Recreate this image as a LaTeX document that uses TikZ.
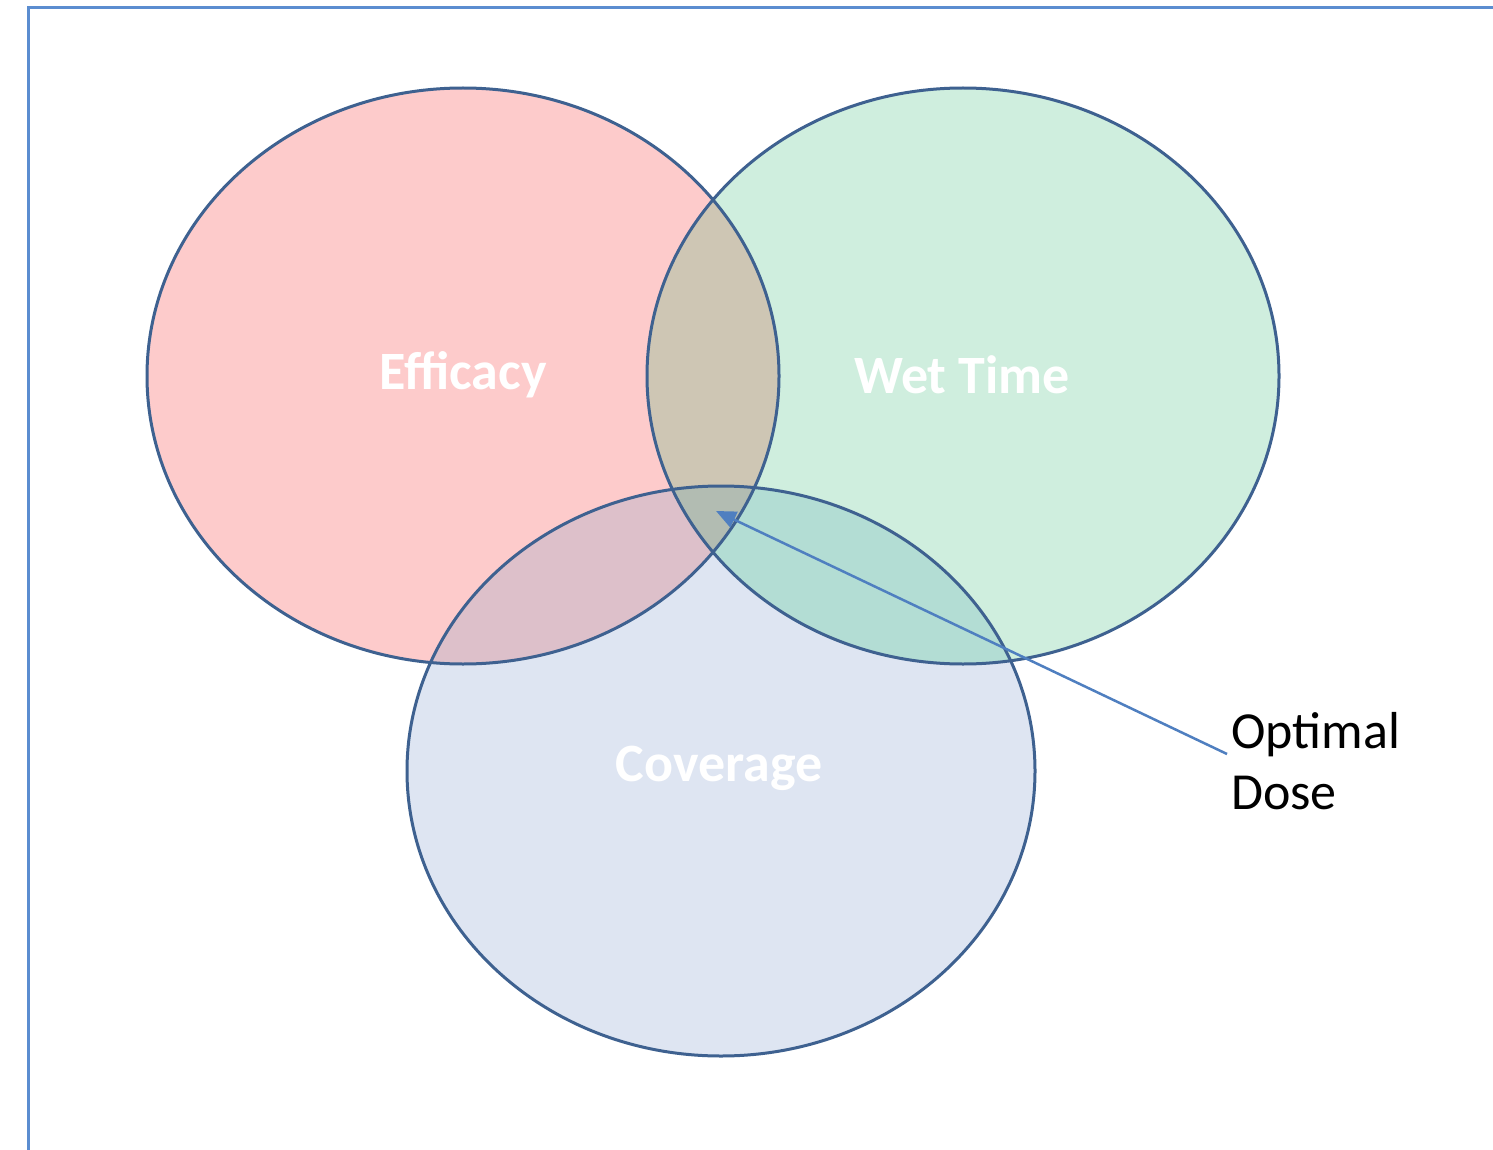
\documentclass[tikz,border=0pt]{standalone}
\usepackage{fontspec}
\setmainfont{Carlito}
\usetikzlibrary{arrows.meta}

\definecolor{effFill}{HTML}{FDCBCB}
\definecolor{wetFill}{HTML}{CFEEDE}
\definecolor{covFill}{HTML}{DEE5F2}
\definecolor{effWet}{HTML}{CEC6B4}
\definecolor{effCov}{HTML}{DDC0CA}
\definecolor{wetCov}{HTML}{B3DDD4}
\definecolor{allThree}{HTML}{B2BCB2}
\definecolor{rimBlue}{HTML}{3E6190}
\definecolor{frameBlue}{HTML}{5B8DD0}
\definecolor{pointerBlue}{HTML}{4F7FC0}

\tikzset{
  rim/.style={draw=rimBlue, line width=3pt},
  setlabel/.style={text=white, font=\bfseries\fontsize{54}{60}\selectfont, inner sep=0pt},
  calloutlabel/.style={text=black, font=\fontsize{52}{61}\selectfont, inner sep=0pt, align=left},
  pointer/.style={draw=pointerBlue, line width=2.5pt, -{Triangle[length=20pt,width=17pt]}},
}

% ellipse outlines of the three sets
\def\effPath{(463,376) ellipse [x radius=316, y radius=288]}
\def\wetPath{(963,376) ellipse [x radius=316, y radius=288]}
\def\covPath{(721,771) ellipse [x radius=314, y radius=285]}

\begin{document}
\begin{tikzpicture}[x=1pt, y=-1pt]
  \useasboundingbox (0,0) rectangle (1493,1150);
  \fill[white] (0,0) rectangle (1493,1150);

  % enclosing frame (open to the right and bottom)
  \draw[frameBlue, line width=3pt] (28,1150) -- (28,8) -- (1493,8);

  % set fills
  \fill[effFill] \effPath;
  \fill[wetFill] \wetPath;
  \fill[covFill] \covPath;

  % pairwise overlaps
  \begin{scope}
    \clip \effPath;
    \fill[effWet] \wetPath;
    \fill[effCov] \covPath;
  \end{scope}
  \begin{scope}
    \clip \wetPath;
    \fill[wetCov] \covPath;
  \end{scope}
  % triple overlap
  \begin{scope}
    \clip \effPath;
    \clip \wetPath;
    \fill[allThree] \covPath;
  \end{scope}

  % outlines
  \draw[rim] \effPath;
  \draw[rim] \wetPath;
  \draw[rim] \covPath;

  % set names
  \node[setlabel] (eff) at (463,375) {Efficacy};
  \node[setlabel] (wet) at (962,375) {Wet Time};
  \node[setlabel] (cov) at (719,768) {Coverage};

  % callout
  \node[calloutlabel, anchor=north west] (dose) at (1231,712) {Optimal\\Dose};
  \coordinate (tip) at (716,511);
  \coordinate (tail) at ([xshift=-4pt, yshift=-42pt]dose.north west);
  \draw[pointer] (tail) -- (tip);
\end{tikzpicture}
\end{document}
